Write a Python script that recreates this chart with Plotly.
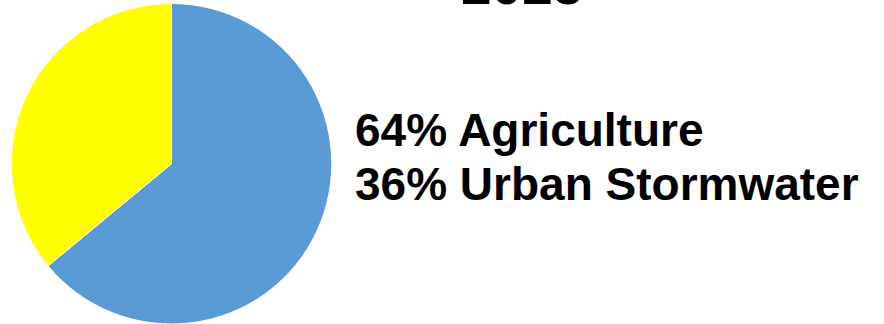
import plotly.graph_objects as go

W, H = 884, 324

# Pie data
categories = ["Agriculture", "Urban Stormwater"]
shares = [64, 36]
colors = ["#5B9BD5", "#FFFF00"]
title_text = "2025"

fig = go.Figure(
    go.Pie(
        labels=categories,
        values=shares,
        sort=False,
        direction="clockwise",
        rotation=0,
        marker=dict(colors=colors, line=dict(color="#FFFFFF", width=1)),
        textinfo="none",
        hoverinfo="label+percent",
        showlegend=False,
        domain=dict(x=[11 / W, 332 / W], y=[0, (H - 3.5) / H]),
    )
)

font_family = "Arial, Liberation Sans, sans-serif"
annotations = [
    dict(
        text=f"<b>{title_text}</b>",
        x=522 / W, y=1 - 7 / H, xref="paper", yref="paper",
        xanchor="center", yanchor="bottom", yshift=-11,
        showarrow=False, font=dict(family=font_family, size=55, color="#000000"),
    )
]
# Legend-style text lines built from the data
for i, (cat, val) in enumerate(zip(categories, shares)):
    annotations.append(
        dict(
            text=f"<b>{val}% {cat}</b>",
            x=353 / W, y=1 - (129.5 + 54 * i) / H, xref="paper", yref="paper",
            xanchor="left", yanchor="middle",
            showarrow=False, font=dict(family=font_family, size=46, color="#000000"),
        )
    )

fig.update_layout(
    width=W, height=H,
    margin=dict(l=0, r=0, t=0, b=0),
    paper_bgcolor="#FFFFFF",
    plot_bgcolor="#FFFFFF",
    annotations=annotations,
)

fig.write_html("out.html")
